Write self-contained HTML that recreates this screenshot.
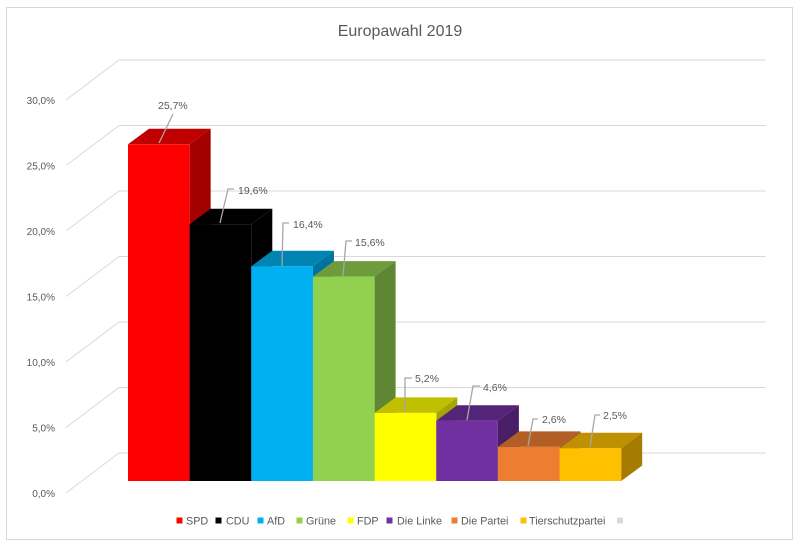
<!DOCTYPE html>
<html>
<head>
<meta charset="utf-8">
<style>
  html,body{margin:0;padding:0;background:#fff;}
  svg{display:block;}
  text{font-family:"Liberation Sans",sans-serif;fill:#595959;}
</style>
</head>
<body>
<svg width="800" height="551" viewBox="0 0 800 551" xmlns="http://www.w3.org/2000/svg">
  <rect x="0" y="0" width="800" height="551" fill="#fff"/>
  <rect x="6.5" y="7.5" width="786" height="532" fill="none" stroke="#D9D9D9" stroke-width="1"/>

  <text x="400" y="36" font-size="16" text-anchor="middle">Europawahl 2019</text>

  <!-- gridlines -->
  <g stroke="#D9D9D9" stroke-width="1" fill="none">
    <polyline points="66,100 119,60 766,60"/>
    <polyline points="66,165.5 119,125.5 766,125.5"/>
    <polyline points="66,231 119,191 766,191"/>
    <polyline points="66,296.5 119,256.5 766,256.5"/>
    <polyline points="66,362 119,322 766,322"/>
    <polyline points="66,427.5 119,387.5 766,387.5"/>
    <polyline points="66,493 119,453 766,453"/>
  </g>

  <!-- axis labels -->
  <g font-size="10" text-anchor="end">
    <text x="55" y="104">30,0%</text>
    <text x="55" y="169.5">25,0%</text>
    <text x="55" y="235">20,0%</text>
    <text x="55" y="300.5">15,0%</text>
    <text x="55" y="366">10,0%</text>
    <text x="55" y="431.5">5,0%</text>
    <text x="55" y="497">0,0%</text>
  </g>

  <!-- bars: x0, width 61.65, bottom 481, depth (21,-15.5) -->
  <!-- SPD 25.7 top 144.3 -->
  <g>
    <polygon points="128,144.3 189.65,144.3 210.65,128.8 149,128.8" fill="#C00000"/>
    <polygon points="189.65,144.3 210.65,128.8 210.65,465.5 189.65,481" fill="#A50000"/>
    <rect x="128" y="144.3" width="61.65" height="336.7" fill="#FF0000"/>
  </g>
  <!-- CDU 19.6 top 224.2 -->
  <g>
    <polygon points="189.65,224.2 251.3,224.2 272.3,208.7 210.65,208.7" fill="#000"/>
    <polygon points="251.3,224.2 272.3,208.7 272.3,465.5 251.3,481" fill="#000"/>
    <rect x="189.65" y="224.2" width="61.65" height="256.8" fill="#000"/>
  </g>
  <!-- AfD 16.4 top 266.2 -->
  <g>
    <polygon points="251.3,266.2 312.95,266.2 333.95,250.7 272.3,250.7" fill="#0084B4"/>
    <polygon points="312.95,266.2 333.95,250.7 333.95,465.5 312.95,481" fill="#0072A0"/>
    <rect x="251.3" y="266.2" width="61.65" height="214.8" fill="#00B0F0"/>
  </g>
  <!-- Grüne 15.6 top 276.6 -->
  <g>
    <polygon points="312.95,276.6 374.6,276.6 395.6,261.1 333.95,261.1" fill="#6E9C3C"/>
    <polygon points="374.6,276.6 395.6,261.1 395.6,465.5 374.6,481" fill="#5E8633"/>
    <rect x="312.95" y="276.6" width="61.65" height="204.4" fill="#92D050"/>
  </g>
  <!-- FDP 5.2 top 412.9 -->
  <g>
    <polygon points="374.6,412.9 436.25,412.9 457.25,397.4 395.6,397.4" fill="#C0C000"/>
    <polygon points="436.25,412.9 457.25,397.4 457.25,465.5 436.25,481" fill="#A6A600"/>
    <rect x="374.6" y="412.9" width="61.65" height="68.1" fill="#FFFF00"/>
  </g>
  <!-- Die Linke 4.6 top 420.7 -->
  <g>
    <polygon points="436.25,420.7 497.9,420.7 518.9,405.2 457.25,405.2" fill="#542478"/>
    <polygon points="497.9,420.7 518.9,405.2 518.9,465.5 497.9,481" fill="#481F67"/>
    <rect x="436.25" y="420.7" width="61.65" height="60.3" fill="#7030A0"/>
  </g>
  <!-- Die Partei 2.6 top 446.9 -->
  <g>
    <polygon points="497.9,446.9 559.55,446.9 580.55,431.4 518.9,431.4" fill="#B25E25"/>
    <polygon points="559.55,446.9 580.55,431.4 580.55,465.5 559.55,481" fill="#9A5120"/>
    <rect x="497.9" y="446.9" width="61.65" height="34.1" fill="#ED7D31"/>
  </g>
  <!-- Tierschutzpartei 2.5 top 448.2 -->
  <g>
    <polygon points="559.55,448.2 621.2,448.2 642.2,432.7 580.55,432.7" fill="#BF9000"/>
    <polygon points="621.2,448.2 642.2,432.7 642.2,465.5 621.2,481" fill="#A57C00"/>
    <rect x="559.55" y="448.2" width="61.65" height="32.8" fill="#FFC000"/>
  </g>

  <!-- leader lines -->
  <g stroke="#A6A6A6" stroke-width="1.3" fill="none">
    <polyline points="173,114 159,143"/>
    <polyline points="234,189 228,189 220,223"/>
    <polyline points="289,223 283,223 282,266"/>
    <polyline points="352,241 346,241 343,276"/>
    <polyline points="412,378 405,378 405,412"/>
    <polyline points="480,386 473,386 467,420"/>
    <polyline points="538,419 533,419 528,446"/>
    <polyline points="600,415 595,415 590,447"/>
  </g>

  <!-- data labels -->
  <g font-size="10.5">
    <text x="158" y="109">25,7%</text>
    <text x="238" y="194">19,6%</text>
    <text x="293" y="228">16,4%</text>
    <text x="355" y="246">15,6%</text>
    <text x="415" y="382">5,2%</text>
    <text x="483" y="391">4,6%</text>
    <text x="542" y="423">2,6%</text>
    <text x="603" y="419">2,5%</text>
  </g>

  <!-- legend -->
  <g font-size="10.8">
    <rect x="176.5" y="517.5" width="6" height="6" fill="#FF0000"/>
    <text x="186" y="524.5">SPD</text>
    <rect x="215.5" y="517.5" width="6" height="6" fill="#000000"/>
    <text x="226" y="524.5">CDU</text>
    <rect x="257.5" y="517.5" width="6" height="6" fill="#00B0F0"/>
    <text x="267" y="524.5">AfD</text>
    <rect x="296.5" y="517.5" width="6" height="6" fill="#92D050"/>
    <text x="306" y="524.5">Grüne</text>
    <rect x="347.5" y="517.5" width="6" height="6" fill="#FFFF00"/>
    <text x="357" y="524.5">FDP</text>
    <rect x="386.5" y="517.5" width="6" height="6" fill="#7030A0"/>
    <text x="397" y="524.5">Die Linke</text>
    <rect x="451.5" y="517.5" width="6" height="6" fill="#ED7D31"/>
    <text x="461" y="524.5">Die Partei</text>
    <rect x="520.5" y="517.5" width="6" height="6" fill="#FFC000"/>
    <text x="529" y="524.5">Tierschutzpartei</text>
    <rect x="617" y="517.5" width="6" height="6" fill="#D9D9D9"/>
  </g>
</svg>
</body>
</html>
